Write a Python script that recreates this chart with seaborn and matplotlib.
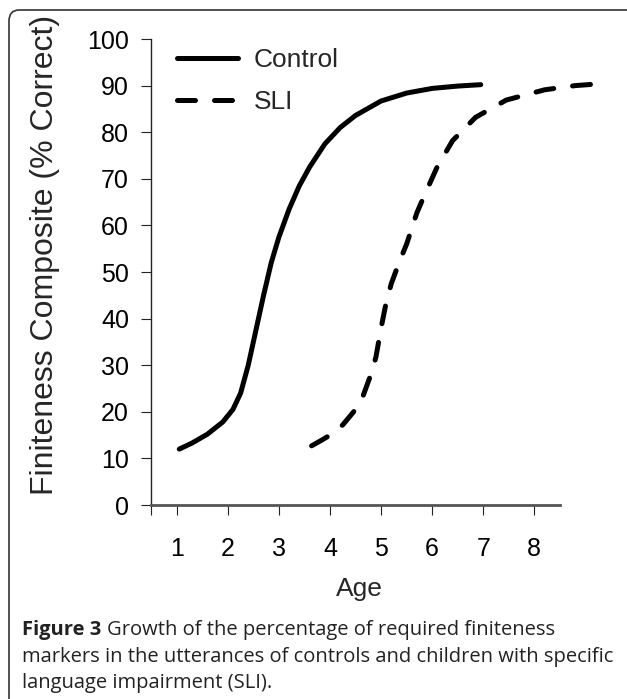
import pandas as pd
import seaborn as sns
import matplotlib.pyplot as plt
from matplotlib.patches import FancyBboxPatch

# curve points (age, finiteness composite %)
control_age = [1.05, 1.3, 1.6, 1.9, 2.1, 2.25, 2.4, 2.55, 2.7, 2.85, 3.0,
               3.2, 3.4, 3.6, 3.9, 4.2, 4.5, 5.0, 5.5, 6.0, 6.5, 6.95]
control_pct = [12.0, 13.3, 15.2, 17.8, 20.5, 24.0, 30.0, 37.5, 45.0, 52.0, 57.5,
               63.5, 68.5, 72.5, 77.5, 81.0, 83.6, 86.7, 88.4, 89.4, 89.9, 90.2]
sli_age = [3.64, 3.85, 4.0, 4.25, 4.5, 4.65, 4.8, 4.9, 5.0, 5.1, 5.2, 5.35,
           5.5, 5.7, 5.85, 6.1, 6.4, 6.85, 7.45, 8.2, 8.8, 9.42]
sli_pct = [12.7, 14.0, 15.0, 17.2, 20.5, 23.5, 28.0, 31.8, 38.0, 43.5, 47.5, 52.0,
           56.0, 62.7, 66.5, 72.6, 78.2, 83.2, 86.9, 89.1, 90.0, 90.5]
groups = ['Control', 'SLI']
x_ticks = [1, 2, 3, 4, 5, 6, 7, 8]
y_ticks = [0, 10, 20, 30, 40, 50, 60, 70, 80, 90, 100]

df = pd.DataFrame({
    'age': control_age + sli_age,
    'pct': control_pct + sli_pct,
    'group': [groups[0]] * len(control_age) + [groups[1]] * len(sli_age),
})

sns.set_style('ticks')
plt.rcParams['font.family'] = ['Liberation Sans', 'DejaVu Sans']

fig = plt.figure(figsize=(6.27, 6.99), dpi=100)
ax = fig.add_axes([0.2411, 0.2775, 0.7334, 0.6667])

sns.lineplot(data=df, x='age', y='pct', style='group', color='black',
             dashes={'Control': '', 'SLI': (3.6, 3.8)}, linewidth=3.6,
             sort=False, estimator=None, solid_capstyle='round',
             dash_capstyle='round', solid_joinstyle='round',
             dash_joinstyle='round', legend=False, ax=ax)

ax.set_xlim(0.5, 9.5)
ax.set_ylim(0, 100)
ax.set_xticks(x_ticks)
ax.set_xticks([0.5], minor=True)
ax.set_yticks(y_ticks)
ax.tick_params(axis='both', which='both', direction='out', length=7,
               width=0.8, colors='#222222', labelsize=18, labelcolor='black')
ax.tick_params(axis='x', pad=16)
ax.tick_params(axis='y', pad=9)

for s in ['top', 'right']:
    ax.spines[s].set_visible(False)
ax.spines['bottom'].set_bounds(0.5, 8.5)
ax.spines['bottom'].set_linewidth(2.0)
ax.spines['bottom'].set_color('#555555')
ax.spines['left'].set_linewidth(1.0)
ax.spines['left'].set_color('#222222')

ax.set_xlabel('Age', fontsize=19)
ax.xaxis.set_label_coords(0.452, -0.154)
ax.set_ylabel('Finiteness Composite (% Correct)', fontsize=23)
ax.yaxis.set_label_coords(-0.198, 0.536)

ax.legend(ax.lines[:2], groups, loc='upper left', bbox_to_anchor=(0.056, 0.981),
          frameon=False, fontsize=19, handlelength=2.3, handletextpad=0.6,
          labelspacing=0.70, borderpad=0, borderaxespad=0)

# rounded panel border
box = FancyBboxPatch((9 / 627, -0.2), 1.2, 1.2 - 10 / 699,
                     boxstyle='round,pad=0,rounding_size=0.016',
                     transform=fig.transFigure, fill=False,
                     edgecolor='#333333', linewidth=1.2)
fig.add_artist(box)

# caption
cap_font = ['Open Sans', 'DejaVu Sans']
cap_size = 14.5
x0 = 22 / 627
t = fig.text(x0, 1 - 630 / 699, 'Figure 3', fontsize=cap_size, fontweight='bold',
             va='center', ha='left', family=cap_font, color='#222222')
renderer = fig.canvas.get_renderer()
w = t.get_window_extent(renderer).width / fig.bbox.width
fig.text(x0 + w + 6 / 627, 1 - 630 / 699,
         'Growth of the percentage of required finiteness',
         fontsize=cap_size, va='center', ha='left', family=cap_font, color='#222222')
fig.text(x0, 1 - 657 / 699,
         'markers in the utterances of controls and children with specific',
         fontsize=cap_size, va='center', ha='left', family=cap_font, color='#222222')
fig.text(x0, 1 - 683 / 699, 'language impairment (SLI).',
         fontsize=cap_size, va='center', ha='left', family=cap_font, color='#222222')

fig.savefig('out.png', dpi=100)
